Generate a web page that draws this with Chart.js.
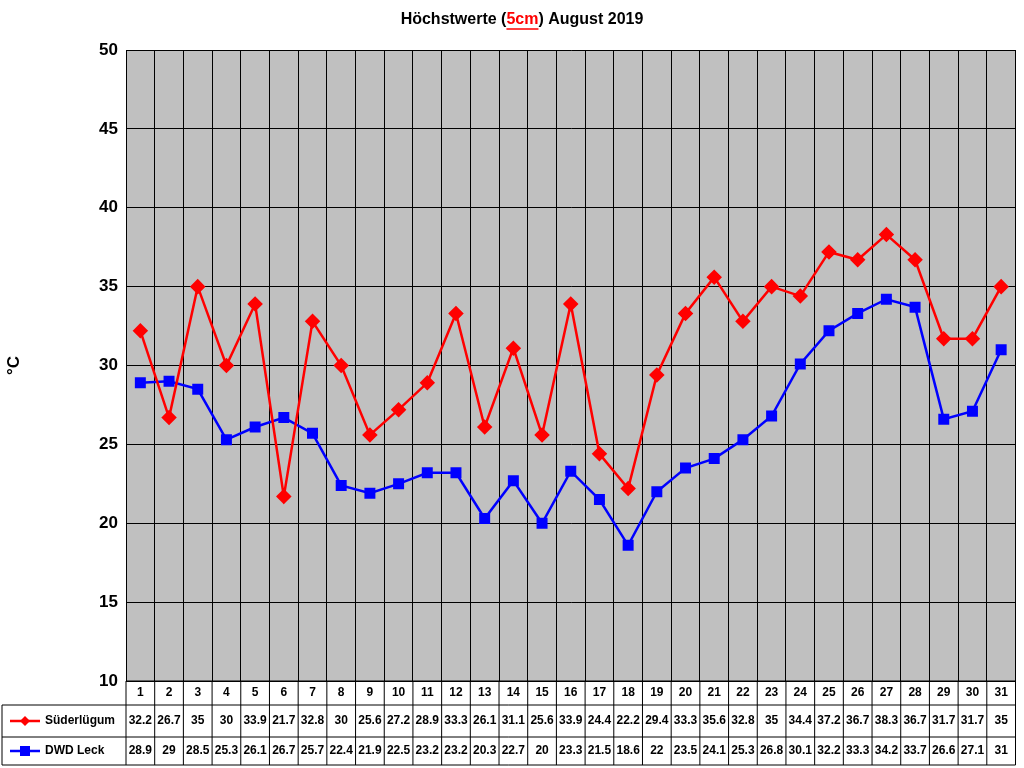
<!DOCTYPE html>
<html lang="en">
<head>
<meta charset="UTF-8">
<title>Höchstwerte August 2019</title>
<style>
  body { margin: 0; background: #fff; }
  #wrap { width: 1024px; height: 768px; }
</style>
</head>
<body>
<div id="wrap"><canvas id="myChart" width="1024" height="768"></canvas></div>
<script src="https://cdn.jsdelivr.net/npm/chart.js"></script>
<script>
const days = ['1','2','3','4','5','6','7','8','9','10','11','12','13','14','15','16','17','18','19','20','21','22','23','24','25','26','27','28','29','30','31'];
const suederluegum = [32.2,26.7,35,30,33.9,21.7,32.8,30,25.6,27.2,28.9,33.3,26.1,31.1,25.6,33.9,24.4,22.2,29.4,33.3,35.6,32.8,35,34.4,37.2,36.7,38.3,36.7,31.7,31.7,35];
const dwdLeck = [28.9,29,28.5,25.3,26.1,26.7,25.7,22.4,21.9,22.5,23.2,23.2,20.3,22.7,20,23.3,21.5,18.6,22,23.5,24.1,25.3,26.8,30.1,32.2,33.3,34.2,33.7,26.6,27.1,31];
const seriesNames = ['Süderlügum', 'DWD Leck'];

const ctx = document.getElementById('myChart');

// grey plot background + title
const backdrop = {
  id: 'backdrop',
  beforeDraw(chart) {
    const c = chart.ctx, a = chart.chartArea;
    c.save();
    c.fillStyle = '#c0c0c0';
    c.fillRect(a.left, a.top, a.right - a.left, a.bottom - a.top);
    // title
    c.font = 'bold 16px Arial';
    c.textBaseline = 'middle';
    const parts = [['Höchstwerte (', '#000'], ['5cm', '#ff0000'], [') August 2019', '#000']];
    let w = 0;
    parts.forEach(p => w += c.measureText(p[0]).width);
    let x = 512 - w / 2 + 10;
    parts.forEach(p => {
      c.fillStyle = p[1];
      c.fillText(p[0], x, 20);
      const pw = c.measureText(p[0]).width;
      if (p[1] !== '#000') {
        c.strokeStyle = p[1]; c.lineWidth = 1.5;
        c.beginPath(); c.moveTo(x, 29); c.lineTo(x + pw, 29); c.stroke();
      }
      x += pw;
    });
    c.restore();
  }
};

// data table below the plot
const dataTable = {
  id: 'dataTable',
  afterDraw(chart) {
    const c = chart.ctx, a = chart.chartArea, xs = chart.scales.x;
    const rows = [a.bottom, 705, 737, 765];
    const colW = (a.right - a.left) / days.length;
    c.save();
    c.strokeStyle = '#000'; c.lineWidth = 1;
    c.beginPath();
    for (let i = 0; i <= days.length; i++) {
      const x = a.left + i * colW;
      c.moveTo(x, rows[0]); c.lineTo(x, rows[3]);
    }
    c.moveTo(a.left, rows[0]); c.lineTo(a.right, rows[0]);
    for (let r = 1; r < 4; r++) { c.moveTo(2, rows[r]); c.lineTo(a.right, rows[r]); }
    c.moveTo(2, rows[1]); c.lineTo(2, rows[3]);
    c.stroke();

    c.fillStyle = '#000';
    c.textAlign = 'center'; c.textBaseline = 'middle';
    c.font = 'bold 12px Arial';
    days.forEach((d, i) => {
      const x = xs.getPixelForValue(i);
      c.fillText(d, x, (rows[0] + rows[1]) / 2);
      c.fillText(String(suederluegum[i]), x, (rows[1] + rows[2]) / 2);
      c.fillText(String(dwdLeck[i]), x, (rows[2] + rows[3]) / 2);
    });

    // legend keys
    const keys = [['#ff0000', 'diamond'], ['#0000ff', 'square']];
    keys.forEach((k, r) => {
      const y = (rows[r + 1] + rows[r + 2]) / 2;
      c.strokeStyle = k[0]; c.fillStyle = k[0]; c.lineWidth = 2.5;
      c.beginPath(); c.moveTo(10, y); c.lineTo(40, y); c.stroke();
      c.beginPath();
      if (k[1] === 'diamond') {
        c.moveTo(25, y - 5); c.lineTo(30, y); c.lineTo(25, y + 5); c.lineTo(20, y);
        c.closePath(); c.fill();
      } else {
        c.fillRect(20, y - 5, 10, 10);
      }
      c.fillStyle = '#000';
      c.textAlign = 'left';
      c.fillText(seriesNames[r], 45, y);
    });
    c.restore();
  }
};

new Chart(ctx, {
  type: 'line',
  data: {
    labels: days,
    datasets: [{
      label: seriesNames[0],
      data: suederluegum,
      borderColor: '#ff0000',
      backgroundColor: '#ff0000',
      borderWidth: 2.5,
      pointStyle: 'rectRot',
      pointRadius: 6,
      pointHoverRadius: 6,
      tension: 0
    }, {
      label: seriesNames[1],
      data: dwdLeck,
      borderColor: '#0000ff',
      backgroundColor: '#0000ff',
      borderWidth: 2.5,
      pointStyle: 'rect',
      pointRadius: 6,
      pointHoverRadius: 6,
      tension: 0
    }]
  },
  options: {
    responsive: false,
    animation: false,
    layout: { padding: { left: 0, right: 8, top: 50, bottom: 87 } },
    plugins: {
      legend: { display: false },
      tooltip: { enabled: false }
    },
    scales: {
      x: {
        offset: true,
        grid: { offset: true, color: '#000', lineWidth: 1, drawTicks: false },
        border: { color: '#000' },
        ticks: { display: false },
        afterFit(scale) { scale.height = 0; }
      },
      y: {
        min: 10, max: 50,
        ticks: { stepSize: 5, color: '#000', font: { family: 'Arial', size: 17, weight: 'bold' }, padding: 8 },
        grid: { color: '#000', lineWidth: 1, drawTicks: false },
        border: { color: '#000' },
        title: { display: true, text: '°C', color: '#000', font: { family: 'Arial', size: 17, weight: 'bold' } },
        afterFit(scale) { scale.width = 126; }
      }
    }
  },
  plugins: [backdrop, dataTable]
});
</script>
</body>
</html>
